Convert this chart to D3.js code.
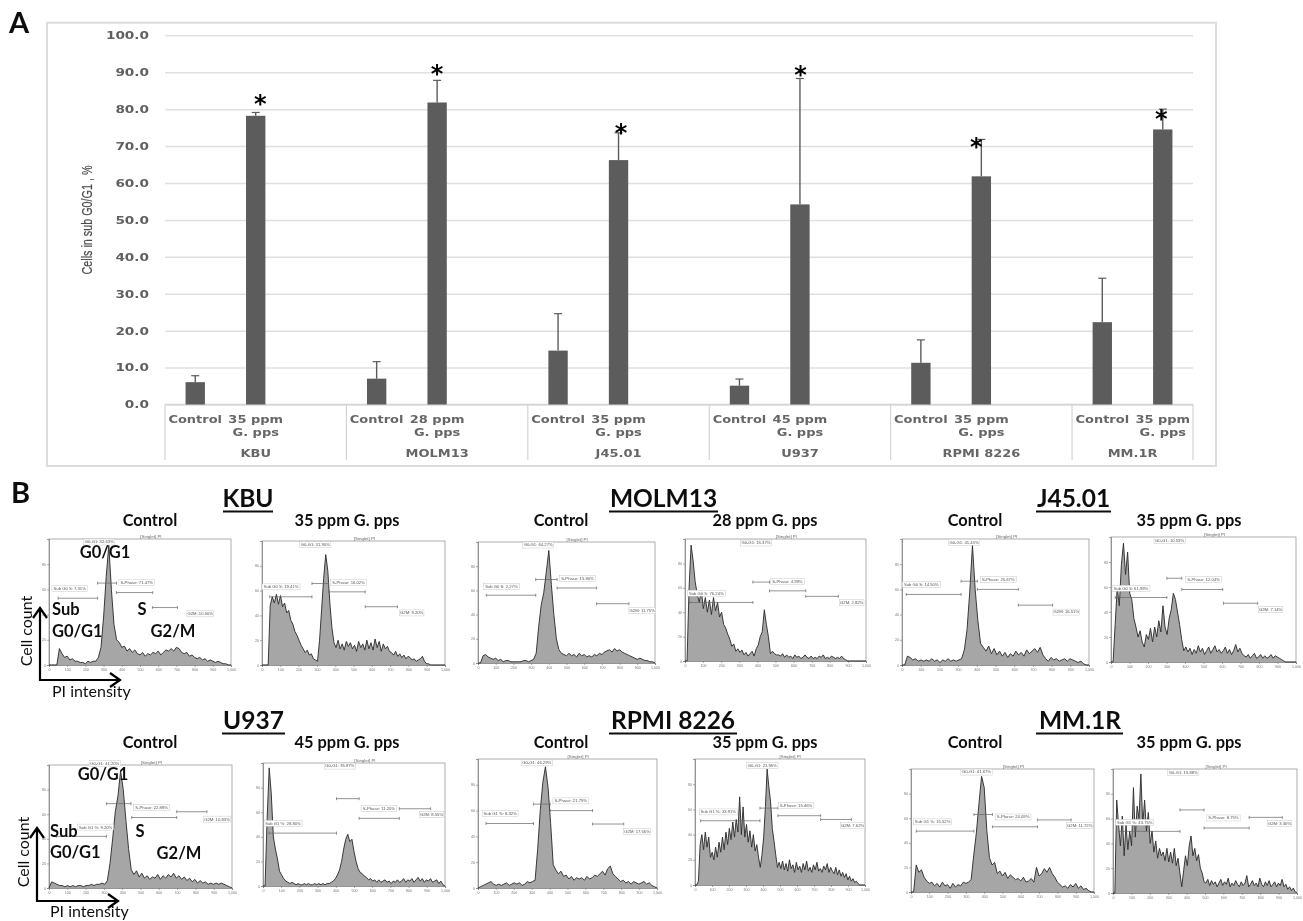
<!DOCTYPE html>
<html>
<head>
<meta charset="utf-8">
<script src="https://cdn.jsdelivr.net/npm/d3@7"></script>
<style>
  html, body { margin: 0; padding: 0; background: #fff; }
  svg { display: block; }
</style>
</head>
<body>
<svg width="1303" height="921"></svg>
<script>
// Panel A values
const cellLines = ['KBU', 'MOLM13', 'J45.01', 'U937', 'RPMI 8226', 'MM.1R'];
const doseLabels = ['35 ppm', '28 ppm', '35 ppm', '45 ppm', '35 ppm', '35 ppm'];
const controlMeans = [6.05, 7.0, 14.6, 5.1, 11.3, 22.3];
const controlTops = [7.8, 11.6, 24.6, 6.9, 17.5, 34.2];
const treatedMeans = [78.2, 81.8, 66.2, 54.2, 61.8, 74.5];
const treatedTops = [79.1, 87.8, 73.6, 88.3, 71.8, 80.0];
const starLevels = [81.9, 90.0, 74.2, 89.8, 70.3, 77.9];
const yTicks = [0, 10, 20, 30, 40, 50, 60, 70, 80, 90, 100];

// Panel B histograms, height in % of the plot, evenly spaced along the PI channel
const kbuControl = [0,0,0,0,13,9,6,7,4,5,3,3,2,2,1,3,2,3,3,6,14,38,70,95,60,32,20,18,14,15,11,13,10,12,9,8,10,7,9,8,10,9,11,8,10,12,11,13,11,14,13,10,9,10,7,8,6,5,6,4,5,3,4,3,2,3,2,1,1,0,0];
const kbuTreated = [0,0,0,0,48,55,50,57,49,56,47,50,42,44,36,33,27,24,20,16,13,10,12,8,9,5,4,3,20,45,70,89,76,50,30,18,14,20,13,17,12,19,15,18,13,16,11,19,14,17,12,20,13,18,12,21,14,19,11,17,13,15,11,10,8,11,7,9,6,8,5,7,6,4,5,3,4,5,7,3,1,1,0,0,0,0,0,0,0,0];
const molmControl = [0,0,6,7,5,4,3,4,2,3,1,2,2,1,1,1,1,1,2,2,1,2,3,8,30,48,58,75,93,65,40,20,11,8,7,6,8,6,7,5,8,6,7,5,6,5,7,6,8,7,9,10,11,9,12,10,11,9,8,7,6,5,4,3,4,3,2,2,1,1,0];
const molmTreated = [0,0,60,95,82,65,55,48,58,43,52,40,50,38,52,41,48,36,40,30,27,22,18,12,14,8,10,7,9,5,7,4,6,8,4,10,13,20,24,42,30,20,6,8,6,5,5,4,6,3,5,3,4,2,5,3,4,2,3,5,3,2,4,2,3,2,4,3,5,2,3,2,4,3,2,3,2,4,2,1,0,0,0,0,0,0,0,0,0,0];
const j45Control = [0,0,7,6,4,5,3,4,3,4,3,5,3,4,2,4,3,5,3,4,3,4,5,12,28,58,95,60,35,17,14,11,15,9,13,8,11,7,10,6,9,7,11,8,10,7,12,9,11,13,10,14,8,5,3,6,4,5,3,4,5,3,5,4,3,2,3,1,0,0];
const j45Treated = [0,0,30,60,45,78,95,70,88,55,50,35,28,20,25,16,12,22,18,27,16,28,20,33,24,45,28,22,35,42,55,50,40,30,18,9,12,8,11,6,10,7,13,8,11,6,9,12,7,10,13,8,10,7,9,12,7,10,6,9,14,8,11,7,5,4,6,3,5,7,3,4,6,3,5,3,4,6,3,5,4,3,2,1,0,0,0,0,0,0];
const u937Control = [0,5,4,3,2,2,1,2,1,2,1,2,2,1,2,2,3,2,3,3,4,3,6,20,40,62,75,95,80,55,32,15,11,14,9,12,8,10,7,9,8,11,7,10,8,11,9,12,8,10,7,9,6,8,5,7,4,6,4,5,3,4,3,4,3,4,3,2,1,0];
const u937Treated = [0,0,55,96,75,40,30,22,12,9,6,4,3,2,3,2,1,2,1,1,2,1,2,1,1,2,1,2,1,2,1,2,2,3,4,6,9,13,20,30,38,42,36,38,28,20,14,11,10,8,7,5,6,4,5,3,5,3,4,5,3,4,2,4,3,5,3,4,6,3,5,4,6,3,5,7,4,6,3,5,4,6,3,4,5,2,4,1,0];
const rpmiControl = [0,1,2,3,4,5,3,2,3,2,3,4,2,3,4,3,4,2,3,5,4,5,6,30,60,82,94,78,50,18,14,11,13,9,10,7,9,6,8,7,8,6,9,7,8,10,9,11,13,10,15,17,11,9,7,5,6,4,5,3,5,4,3,4,5,3,4,2,1,0];
const rpmiTreated = [0,0,3,32,40,28,42,30,38,22,26,20,30,22,34,26,38,28,42,32,45,36,50,38,52,42,70,40,62,38,48,34,43,30,40,27,32,22,14,24,38,62,92,78,66,45,35,24,14,18,13,19,12,17,11,20,13,16,10,18,12,15,10,17,12,19,11,14,10,16,12,18,11,13,10,15,12,17,10,14,11,9,14,8,12,7,10,6,9,4,7,3,5,2,3,1,0,0,0,0];
const mmControl = [0,0,22,16,18,12,9,7,8,5,7,4,8,5,6,3,7,4,6,5,8,7,8,10,30,48,72,94,85,50,28,22,24,15,17,13,16,11,14,12,10,11,9,12,8,9,11,8,20,13,15,19,16,20,15,12,8,6,4,5,3,6,4,7,3,5,2,3,1,0,0];
const mmTreated = [0,0,75,55,38,62,30,55,35,50,38,85,45,70,60,96,55,75,50,65,40,50,33,42,28,36,30,33,26,36,25,33,24,36,22,28,16,5,18,30,22,38,46,30,36,26,31,20,16,9,8,11,6,10,7,9,5,8,11,6,9,7,12,5,8,6,10,7,5,9,6,8,14,5,7,10,6,8,5,12,7,5,9,6,10,5,7,9,5,8,6,11,5,7,3,5,2,4,1,0];

// Gates: from, to, level
const kbuControlGates = [[50,267,53],[267,371,65],[371,570,57.5],[568,706,45.6]];
const kbuTreatedGates = [[42,273,55],[273,364,65.7],[364,564,59],[564,740,47]];
const molmControlGates = [[47,326,56],[326,447,69],[447,670,62],[670,853,49]];
const molmTreatedGates = [[26,375,48],[375,467,64.7],[467,667,57.5],[667,847,53]];
const j45ControlGates = [[23,316,56],[316,403,66.5],[403,622,60],[622,805,47.5]];
const j45TreatedGates = [[23,302,51.6],[302,383,67],[383,604,58],[608,793,47]];
const u937ControlGates = [[40,314,42],[314,448,68.6],[452,698,57.3],[698,863,62]];
const u937TreatedGates = [[33,404,43],[404,528,71],[528,749,55],[749,921,62.8]];
const rpmiControlGates = [[45,310,50],[310,403,65],[403,640,60],[640,814,49.6]];
const rpmiTreatedGates = [[33,382,51],[382,488,61],[488,739,55],[739,920,52]];
const mmControlGates = [[29,344,49.5],[344,445,63],[445,691,53],[691,875,58.6]];
const mmTreatedGates = [[33,364,49.7],[364,495,67],[495,740,52.4],[740,920,61]];

// Gate captions: text, channel, level
const kbuControlNotes = [['G0-G1: 32.63%',276,97.6],['Sub G0 S: 7.31%',114,60.7],['S-Phase: 71.47%',482,65.5],['G2M: 10.56%',831,40.6]];
const kbuTreatedNotes = [['G0-G1: 31.90%',291,97],['Sub G0 S: 19.41%',104,63],['S-Phase: 16.02%',473,66.8],['G2M: 9.20%',818,42]];
const molmControlNotes = [['G0-G1: 64.27%',340,97.5],['Sub G0 S: 2.27%',132,63],['S-Phase: 15.80%',562,70],['G2M: 11.75%',928,43.5]];
const molmTreatedNotes = [['G0-G1: 15.37%',392,96.7],['Sub G0 S: 76.24%',118,55.6],['S-Phase: 4.99%',566,65],['G2M: 2.82%',921,47.7]];
const j45ControlNotes = [['G0-G1: 41.43%',332,97.4],['Sub G0 S: 14.50%',103,64],['S-Phase: 25.67%',515,68],['G2M: 16.51%',879,42]];
const j45TreatedNotes = [['G0-G1: 10.53%',317,97.3],['Sub G0 S: 61.99%',108,59],['S-Phase: 12.04%',500,65.8],['G2M: 7.14%',863,42]];
const u937ControlNotes = [['G0-G1: 41.20%',305,101],['Sub G1 %: 9.20%',255,49.5],['S-Phase: 22.88%',561,65.4],['G2M: 10.83%',918,56]];
const u937TreatedNotes = [['G0-G1: 35.87%',422,97.5],['Sub G1 %: 28.80%',110,51],['S-Phase: 11.20%',637,63],['G2M: 8.55%',926,58]];
const rpmiControlNotes = [['G0-G1: 46.29%',328,97],['Sub G1 %: 8.32%',124,58],['S-Phase: 21.75%',518,67.5],['G2M: 17.56%',889,44]];
const rpmiTreatedNotes = [['G0-G1: 21.95%',396,95],['Sub G1 %: 33.91%',137,58],['S-Phase: 15.46%',594,63],['G2M: 7.62%',927,47]];
const mmControlNotes = [['G0-G1: 41.67%',358,97.5],['Sub G1 %: 15.52%',118,57],['S-Phase: 24.09%',558,61],['G2M: 11.72%',922,54]];
const mmTreatedNotes = [['G0-G1: 15.88%',382,97],['Sub G1 %: 43.75%',118,57],['S-Phase: 8.75%',600,60.5],['G2M: 3.30%',905,56]];

const channelTicks = [0, 100, 200, 300, 400, 500, 600, 700, 800, 900, 1000];
const countTicks = [0, 20, 40, 60, 80];

const svg = d3.select('svg');
const defs = svg.append('defs');
defs.append('filter').attr('id', 'soft')
  .attr('filterUnits', 'userSpaceOnUse')
  .attr('x', 0).attr('y', 0).attr('width', 1303).attr('height', 921)
  .append('feGaussianBlur').attr('stdDeviation', 0.5);

const root = svg.append('g').attr('filter', 'url(#soft)');
root.append('rect').attr('width', 1303).attr('height', 921).attr('fill', '#fff');

const calibri = 'Lato, "Open Sans", sans-serif';
const excel = '"DejaVu Sans", sans-serif';

// ---- Panel A ----
const grey = '#5c5c5c';
const plotLeft = 165, plotRight = 1193, plotBottom = 404.5, plotTop = 35.3;

root.append('rect')
  .attr('x', 47).attr('y', 22.7).attr('width', 1169).attr('height', 443.3)
  .attr('fill', 'none').attr('stroke', '#dcdcdc').attr('stroke-width', 2);

// 17 slots: control, treated and a gap for each line, no gap after the last
const slots = [];
cellLines.forEach((name, i) => {
  slots.push(i + '-c', i + '-t');
  if (i < cellLines.length - 1) slots.push(i + '-gap');
});

const x = d3.scaleBand().domain(slots).range([plotLeft, plotRight])
  .paddingInner(0.68).paddingOuter(0.34);
const y = d3.scaleLinear().domain([0, 100]).range([plotBottom, plotTop]);
const cx = key => x(key) + x.bandwidth() / 2;
const slotStart = key => x(key) - x.step() * 0.34;

const yAxis = root.append('g')
  .attr('transform', `translate(${plotLeft},0)`)
  .call(d3.axisLeft(y).tickValues(yTicks).tickSize(-(plotRight - plotLeft))
    .tickPadding(16).tickFormat(d3.format('.1f')));
yAxis.select('.domain').remove();
yAxis.selectAll('line').attr('stroke', '#e0e0e0').attr('stroke-width', 1.5);
yAxis.selectAll('text')
  .attr('font-family', excel).attr('font-weight', 'bold').attr('font-size', 10.5)
  .attr('fill', '#606060')
  .attr('transform', 'scale(1.3,1)')
  .attr('x', -16 / 1.3);

root.append('text')
  .attr('transform', 'translate(92,220) rotate(-90) scale(0.77,1)')
  .attr('text-anchor', 'middle')
  .attr('font-family', '"Liberation Sans", sans-serif')
  .attr('font-size', 14).attr('fill', '#4c4c4c').attr('stroke', '#4c4c4c').attr('stroke-width', 0.2)
  .text('Cells in sub G0/G1 , %');

// category axis
root.append('line')
  .attr('x1', plotLeft).attr('x2', plotRight).attr('y1', plotBottom).attr('y2', plotBottom)
  .attr('stroke', '#d4d4d4').attr('stroke-width', 1.5);

const groupEdges = cellLines.map((name, i) => slotStart(i + '-c')).concat(plotRight);
root.selectAll('.sep').data(groupEdges).join('line')
  .attr('class', 'sep')
  .attr('x1', d => d).attr('x2', d => d)
  .attr('y1', plotBottom).attr('y2', 460)
  .attr('stroke', '#d4d4d4').attr('stroke-width', 1.2);

function wideText(g, px, py, str) {
  g.append('text')
    .attr('transform', `translate(${px},${py}) scale(1.3,1)`)
    .attr('text-anchor', 'middle')
    .attr('font-family', excel).attr('font-weight', 'bold').attr('font-size', 10)
    .attr('fill', '#666')
    .text(str);
}

cellLines.forEach((name, i) => {
  const c = i + '-c', t = i + '-t';
  wideText(root, cx(c), 422.5, 'Control');
  wideText(root, cx(t), 422.5, doseLabels[i]);
  wideText(root, cx(t), 436, 'G. pps');
  wideText(root, (groupEdges[i] + groupEdges[i + 1]) / 2, 457, name);

  // bars with upper error whiskers
  [[c, controlMeans[i], controlTops[i]], [t, treatedMeans[i], treatedTops[i]]].forEach(b => {
    root.append('line')
      .attr('x1', cx(b[0])).attr('x2', cx(b[0]))
      .attr('y1', y(b[1])).attr('y2', y(b[2]))
      .attr('stroke', grey).attr('stroke-width', 1.4);
    root.append('line')
      .attr('x1', cx(b[0]) - 4).attr('x2', cx(b[0]) + 4)
      .attr('y1', y(b[2])).attr('y2', y(b[2]))
      .attr('stroke', grey).attr('stroke-width', 1.2);
    root.append('rect')
      .attr('x', x(b[0])).attr('width', x.bandwidth())
      .attr('y', y(b[1])).attr('height', plotBottom - y(b[1]))
      .attr('fill', grey);
  });
});

const starShift = [4.5, 0, 2.5, 0.5, -5, -1.5];
cellLines.forEach((name, i) => {
  root.append('text')
    .attr('x', cx(i + '-t') + starShift[i])
    .attr('y', y(starLevels[i]) + 10)
    .attr('text-anchor', 'middle')
    .attr('font-family', excel).attr('font-weight', 'bold').attr('font-size', 24)
    .attr('fill', '#000')
    .text('*');
});

// ---- Panel B ----
function header(str, cxPos, baseline, uLeft, uRight) {
  root.append('text')
    .attr('x', cxPos).attr('y', baseline).attr('text-anchor', 'middle')
    .attr('font-family', calibri).attr('font-weight', 'bold').attr('font-size', 24.5)
    .attr('fill', '#111').text(str);
  root.append('line')
    .attr('x1', uLeft).attr('x2', uRight).attr('y1', baseline + 4.5).attr('y2', baseline + 4.5)
    .attr('stroke', '#111').attr('stroke-width', 1.8);
}
function subhead(str, cxPos, baseline) {
  root.append('text')
    .attr('x', cxPos).attr('y', baseline).attr('text-anchor', 'middle')
    .attr('font-family', calibri).attr('font-weight', 'bold').attr('font-size', 16.4)
    .attr('fill', '#111').text(str);
}
function letter(str, px, py) {
  root.append('text').attr('x', px).attr('y', py)
    .attr('font-family', calibri).attr('font-weight', 'bold').attr('font-size', 29)
    .attr('fill', '#111').text(str);
}

letter('A', 9, 33);
letter('B', 11, 503);

header('KBU', 248, 507, 223, 273);
header('MOLM13', 663.5, 507, 609, 718);
header('J45.01', 1073.5, 507, 1036, 1111);
header('U937', 253.5, 729, 222, 285);
header('RPMI 8226', 673, 729, 609, 737);
header('MM.1R', 1080, 729, 1036, 1123);

const subheadX = [[150, 347], [561, 765], [975, 1189]];
[526, 748].forEach((baseline, row) => {
  subheadX.forEach((pair, col) => {
    subhead('Control', pair[0], baseline);
    subhead(doseLabels[row * 3 + col] + ' G. pps', pair[1], baseline);
  });
});

function histogram(box, values, gates, notes) {
  const px = d3.scaleLinear().domain([0, 1000]).range([box[0], box[1]]);
  const py = d3.scaleLinear().domain([0, 100]).range([box[3], box[2]]);
  const g = root.append('g');

  g.append('rect')
    .attr('x', box[0]).attr('y', box[2])
    .attr('width', box[1] - box[0]).attr('height', box[3] - box[2])
    .attr('fill', '#fff').attr('stroke', '#9a9a9a').attr('stroke-width', 0.8);

  const xAxis = g.append('g').attr('transform', `translate(0,${box[3]})`)
    .call(d3.axisBottom(px).tickValues(channelTicks).tickSize(2).tickPadding(1));
  const vAxis = g.append('g').attr('transform', `translate(${box[0]},0)`)
    .call(d3.axisLeft(py).tickValues(countTicks).tickSize(2).tickPadding(1));
  [xAxis, vAxis].forEach(a => {
    a.select('.domain').attr('stroke', '#777').attr('stroke-width', 0.7);
    a.selectAll('line').attr('stroke', '#777').attr('stroke-width', 0.6);
    a.selectAll('text').attr('font-size', 3.6).attr('fill', '#777')
      .attr('font-family', '"Liberation Sans", sans-serif');
  });

  const channel = (d, i) => px(i * 1000 / (values.length - 1));
  g.append('path').datum(values)
    .attr('d', d3.area().x(channel).y0(py(0)).y1(d => py(d)))
    .attr('fill', '#a6a6a6');
  g.append('path').datum(values)
    .attr('d', d3.line().x(channel).y(d => py(d)))
    .attr('fill', 'none').attr('stroke', '#303030').attr('stroke-width', 0.95);

  g.selectAll('.gate').data(gates).join('path')
    .attr('class', 'gate')
    .attr('d', d => `M${px(d[0])},${py(d[2]) - 1.5}v3M${px(d[0])},${py(d[2])}H${px(d[1])}M${px(d[1])},${py(d[2]) - 1.5}v3`)
    .attr('fill', 'none').attr('stroke', '#666').attr('stroke-width', 0.7);

  notes.forEach(n => {
    const w = n[0].length * 2.25 + 2;
    g.append('rect')
      .attr('x', px(n[1]) - w / 2).attr('y', py(n[2]) - 3)
      .attr('width', w).attr('height', 6)
      .attr('fill', '#fff').attr('stroke', '#bbb').attr('stroke-width', 0.4);
    g.append('text')
      .attr('x', px(n[1])).attr('y', py(n[2]) + 1.4)
      .attr('text-anchor', 'middle')
      .attr('font-family', '"Liberation Sans", sans-serif').attr('font-size', 4.2)
      .attr('fill', '#555').text(n[0]);
  });

  g.append('text')
    .attr('x', px(560)).attr('y', box[2] - 1.5).attr('text-anchor', 'middle')
    .attr('font-family', '"Liberation Sans", sans-serif').attr('font-size', 4.4)
    .attr('fill', '#666').text('[Singlet] PI');
}

// left, right, top, bottom of each FCS plot
histogram([49, 231, 539, 665], kbuControl, kbuControlGates, kbuControlNotes);
histogram([262, 445, 541, 665], kbuTreated, kbuTreatedGates, kbuTreatedNotes);
histogram([478, 655, 542, 663], molmControl, molmControlGates, molmControlNotes);
histogram([685, 866, 539, 661], molmTreated, molmTreatedGates, molmTreatedNotes);
histogram([902, 1089, 539, 665], j45Control, j45ControlGates, j45ControlNotes);
histogram([1111, 1296, 537, 662], j45Treated, j45TreatedGates, j45TreatedNotes);
histogram([49, 232, 765, 888], u937Control, u937ControlGates, u937ControlNotes);
histogram([263, 445, 763, 886], u937Treated, u937TreatedGates, u937TreatedNotes);
histogram([478, 657, 759, 888], rpmiControl, rpmiControlGates, rpmiControlNotes);
histogram([695, 865, 759, 885], rpmiTreated, rpmiTreatedGates, rpmiTreatedNotes);
histogram([911, 1094, 769, 892], mmControl, mmControlGates, mmControlNotes);
histogram([1113, 1297, 769, 893], mmTreated, mmTreatedGates, mmTreatedNotes);

// phase names and the two axis arrows on the left column
function phase(str, px, py, anchor) {
  root.append('text').attr('x', px).attr('y', py).attr('text-anchor', anchor)
    .attr('font-family', calibri).attr('font-weight', 'bold').attr('font-size', 16.5)
    .attr('fill', '#111').text(str);
}
function axisKey(ox, oy, top, right, countY, labelX, labelY) {
  root.append('path')
    .attr('d', `M${ox - 7},${top + 10}L${ox},${top}L${ox + 7},${top + 10}M${ox},${top}V${oy}H${right}M${right - 10},${oy - 7}L${right},${oy}L${right - 10},${oy + 7}`)
    .attr('fill', 'none').attr('stroke', '#000').attr('stroke-width', 2.2);
  root.append('text')
    .attr('transform', `translate(${ox - 8},${countY}) rotate(-90)`)
    .attr('text-anchor', 'middle')
    .attr('font-family', calibri).attr('font-size', 16).attr('fill', '#111')
    .text('Cell count');
  root.append('text').attr('x', labelX).attr('y', labelY)
    .attr('font-family', calibri).attr('font-size', 16).attr('fill', '#111')
    .text('PI intensity');
}

phase('G0/G1', 105, 558, 'middle');
phase('Sub', 52, 615, 'start');
phase('G0/G1', 52, 637, 'start');
phase('S', 142, 615, 'middle');
phase('G2/M', 173, 637, 'middle');
axisKey(40, 680, 608, 120, 631, 52, 697);

phase('G0/G1', 103, 780, 'middle');
phase('Sub', 50, 837, 'start');
phase('G0/G1', 50, 858, 'start');
phase('S', 140, 837, 'middle');
phase('G2/M', 179, 859, 'middle');
axisKey(37, 901, 828, 118, 852, 50, 917);
</script>
</body>
</html>
